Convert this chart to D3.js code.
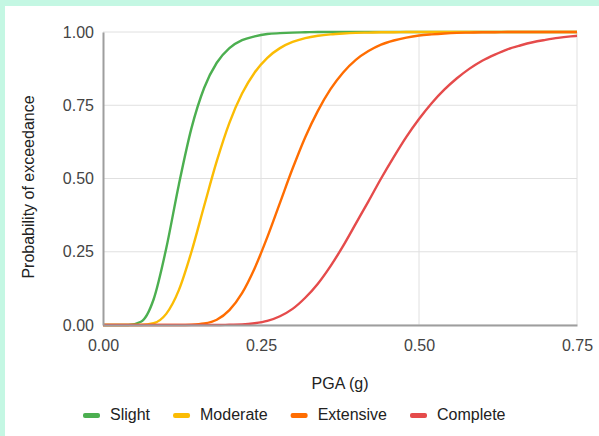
<!DOCTYPE html>
<html>
<head>
<meta charset="utf-8">
<script src="https://cdn.jsdelivr.net/npm/d3@7"></script>
<style>
  html, body { margin: 0; padding: 0; background: #c4f7e3; }
  #chart { position: absolute; left: 5px; top: 6px; width: 594px; height: 430px; background: #fff; }
  svg { position: absolute; left: -5px; top: -6px; font-family: Arial, "Liberation Sans", sans-serif; }
</style>
</head>
<body>
<div id="chart"></div>
<script>
// PGA sample points (g)
const pga = [0, 0.02, 0.04, 0.06, 0.08, 0.10, 0.12, 0.14, 0.16, 0.18, 0.20, 0.22, 0.24, 0.26, 0.28,
    0.30, 0.32, 0.34, 0.36, 0.38, 0.40, 0.42, 0.44, 0.46, 0.48, 0.50, 0.52, 0.54, 0.56, 0.58,
    0.60, 0.62, 0.64, 0.66, 0.68, 0.70, 0.72, 0.74, 0.75];

// probability of exceedance
const slight = [0, 0, 0, 0.011, 0.087, 0.261, 0.479, 0.672, 0.809, 0.895, 0.945, 0.972, 0.985, 0.993, 0.996,
    0.998, 0.999, 1, 1, 1, 1, 1, 1, 1, 1, 1, 1, 1, 1, 1,
    1, 1, 1, 1, 1, 1, 1, 1, 1];
const moderate = [0, 0, 0, 0, 0.006, 0.038, 0.119, 0.250, 0.406, 0.559, 0.690, 0.790, 0.862, 0.912, 0.945,
    0.966, 0.979, 0.987, 0.992, 0.995, 0.997, 0.998, 0.999, 0.999, 1, 1, 1, 1, 1, 1,
    1, 1, 1, 1, 1, 1, 1, 1, 1];
const extensive = [0, 0, 0, 0, 0, 0, 0, 0.001, 0.005, 0.018, 0.051, 0.109, 0.194, 0.300, 0.417,
    0.534, 0.641, 0.731, 0.805, 0.862, 0.905, 0.935, 0.957, 0.971, 0.981, 0.988, 0.992, 0.995, 0.997, 0.998,
    0.999, 0.999, 1, 1, 1, 1, 1, 1, 1];
const complete = [0, 0, 0, 0, 0, 0, 0, 0, 0, 0, 0.001, 0.002, 0.006, 0.014, 0.030,
    0.055, 0.093, 0.141, 0.201, 0.270, 0.346, 0.422, 0.500, 0.573, 0.642, 0.703, 0.757, 0.803, 0.842, 0.875,
    0.902, 0.923, 0.941, 0.954, 0.965, 0.973, 0.980, 0.985, 0.987];

const seriesNames = ['Slight', 'Moderate', 'Extensive', 'Complete'];
const xTicks = [0, 0.25, 0.5, 0.75];
const yTicks = [0, 0.25, 0.5, 0.75, 1];

const colors = ['#4caf50', '#fbbc04', '#ff6d01', '#e54b4b'];
const series = [slight, moderate, extensive, complete].map((vals, i) => ({
    name: seriesNames[i],
    color: colors[i],
    values: pga.map((x, j) => ({x: x, y: vals[j]}))
}));

const width = 599, height = 436;
const margin = {top: 32, right: 22, bottom: 111, left: 103};

const svg = d3.select('#chart').append('svg')
    .attr('width', width)
    .attr('height', height)
    .attr('viewBox', [0, 0, width, height]);

const x = d3.scaleLinear()
    .domain([0, 0.75])
    .range([margin.left, width - margin.right]);
const y = d3.scaleLinear()
    .domain([0, 1])
    .range([height - margin.bottom, margin.top]);

// grid
const grid = svg.append('g').attr('class', 'grid');
grid.selectAll('line.h')
    .data(yTicks)
    .join('line')
    .attr('class', 'h')
    .attr('x1', x(0)).attr('x2', x(0.75))
    .attr('y1', d => y(d)).attr('y2', d => y(d))
    .attr('stroke', '#e0e0e0');
grid.selectAll('line.v')
    .data(xTicks.slice(1))
    .join('line')
    .attr('class', 'v')
    .attr('x1', d => x(d)).attr('x2', d => x(d))
    .attr('y1', y(0)).attr('y2', y(1))
    .attr('stroke', '#e0e0e0');

// curves
const line = d3.line()
    .x(d => x(d.x))
    .y(d => y(d.y))
    .curve(d3.curveMonotoneX);

svg.append('g')
    .attr('id', 'data')
    .selectAll('path')
    .data(series)
    .join('path')
    .attr('fill', 'none')
    .attr('stroke', d => d.color)
    .attr('stroke-width', 2.4)
    .attr('d', d => line(d.values));

// axes
const xAxis = svg.append('g')
    .attr('class', 'x axis')
    .attr('transform', `translate(0,${y(0)})`)
    .call(d3.axisBottom(x).tickValues(xTicks).tickFormat(d3.format('.2f')).tickSize(0).tickPadding(15));
xAxis.select('.domain').attr('stroke', '#9e9e9e').attr('stroke-width', 2);

const yAxis = svg.append('g')
    .attr('class', 'y axis')
    .attr('transform', `translate(${x(0)},0)`)
    .call(d3.axisLeft(y).tickValues(yTicks).tickFormat(d3.format('.2f')).tickSize(0).tickPadding(9));
yAxis.select('.domain').attr('stroke', '#9e9e9e').attr('stroke-width', 2);

svg.selectAll('.axis text')
    .attr('font-size', 16)
    .attr('font-family', 'Arial, "Liberation Sans", sans-serif')
    .attr('fill', '#444');

// titles
svg.append('text')
    .attr('x', (x(0) + x(0.75)) / 2)
    .attr('y', 389)
    .attr('text-anchor', 'middle')
    .attr('font-size', 16)
    .attr('fill', '#222')
    .text('PGA (g)');

svg.append('text')
    .attr('transform', `translate(34,187) rotate(-90)`)
    .attr('text-anchor', 'middle')
    .attr('font-size', 16)
    .attr('fill', '#222')
    .text('Probability of exceedance');

// legend
const legend = svg.append('g').attr('class', 'legend');
const items = legend.selectAll('g')
    .data(series)
    .join('g');
items.append('rect')
    .attr('width', 17)
    .attr('height', 5)
    .attr('rx', 2)
    .attr('y', 413)
    .attr('fill', d => d.color);
items.append('text')
    .attr('x', 27)
    .attr('y', 420)
    .attr('font-size', 16)
    .attr('fill', '#222')
    .text(d => d.name);

let offset = 83;
items.each(function () {
    const item = d3.select(this);
    item.attr('transform', `translate(${offset},0)`);
    offset += 27 + item.select('text').node().getComputedTextLength() + 23;
});
</script>
</body>
</html>
